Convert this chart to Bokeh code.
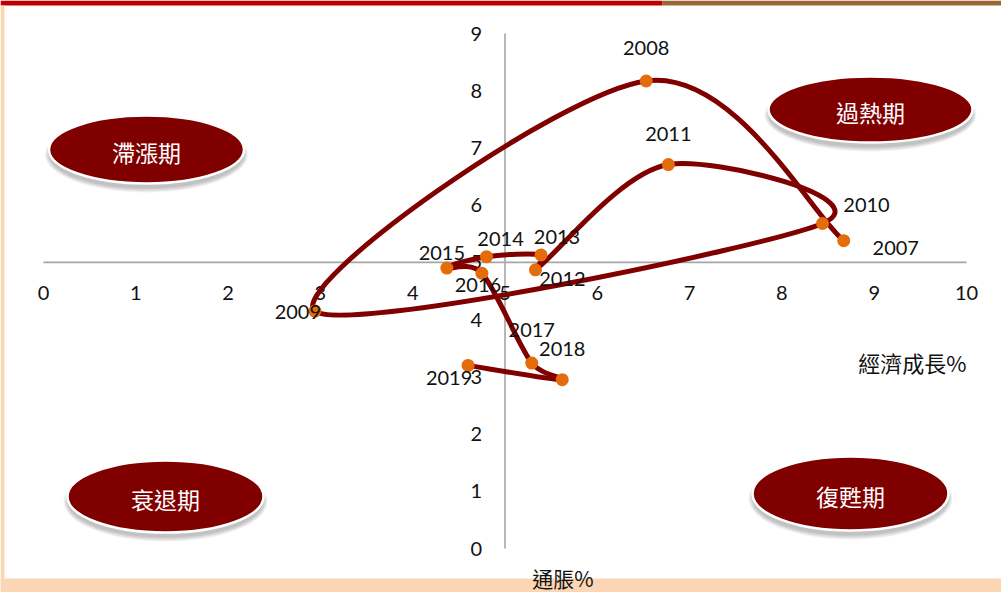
import numpy as np
from bokeh.plotting import figure
from bokeh.models import Range1d, ColumnDataSource
from bokeh.core.properties import value
from bokeh.embed import file_html
from bokeh.resources import INLINE

# ---------------- data ----------------
years = ["2007", "2008", "2009", "2010", "2011", "2012", "2013",
         "2014", "2015", "2016", "2017", "2018", "2019"]
growth = [8.67, 6.53, 2.94, 8.44, 6.77, 5.33, 5.39, 4.80, 4.37, 4.75, 5.29, 5.62, 4.60]
inflation = [5.38, 8.17, 4.15, 5.68, 6.71, 4.87, 5.13, 5.10, 4.90, 4.81, 3.24, 2.95, 3.20]
x_ticks = [0, 1, 2, 3, 4, 5, 6, 7, 8, 9, 10]
y_ticks = [0, 1, 2, 3, 4, 5, 6, 7, 8, 9]
x_title = "經濟成長%"
y_title = "通脹%"
phase_names = ["滯漲期", "過熱期", "衰退期", "復甦期"]
cross_x = 5   # vertical axis crosses at growth = 5
cross_y = 5   # horizontal axis crosses at inflation = 5

# ---------------- layout helpers ----------------
W, H = 1001, 592
X0PX, XSC = 43.0, 92.3     # pixel of x=0, pixels per unit
Y0PX, YSC = 548.0, 57.22   # pixel (from top) of y=0, pixels per unit


def fx(px):
    return (px - X0PX) / XSC


def fy(py):
    return (Y0PX - py) / YSC


p = figure(width=W, height=H,
           x_range=Range1d(fx(0), fx(W)), y_range=Range1d(fy(H), fy(0)),
           x_axis_type=None, y_axis_type=None,
           toolbar_location=None, output_backend="svg", min_border=0)
p.outline_line_color = None
p.background_fill_color = "white"
p.border_fill_color = "white"

# ---------------- page decoration ----------------
p.quad(left=[fx(0)], right=[fx(662)], top=[fy(0)], bottom=[fy(5)],
       fill_color="#C00000", line_color=None)
p.quad(left=[fx(662)], right=[fx(W)], top=[fy(0)], bottom=[fy(5)],
       fill_color="#996633", line_color=None)
p.quad(left=[fx(0)], right=[fx(4)], top=[fy(5)], bottom=[fy(H)],
       fill_color="#FCD5B5", line_color=None)
p.quad(left=[fx(0)], right=[fx(W)], top=[fy(578)], bottom=[fy(H)],
       fill_color="#FCD5B5", line_color=None)

# ---------------- phase ellipses ----------------
ell_centers = [(146, 149), (870, 109), (165, 496), (850, 493)]
ell_sizes = [(195, 68), (204, 66), (196, 72), (196, 74)]
for name, (cx, cy), (w, h) in zip(phase_names, ell_centers, ell_sizes):
    for k in range(5):
        p.ellipse(x=[fx(cx)], y=[fy(cy + 5)], width=[(w + 2 * k) / XSC],
                  height=[(h + 2 * k) / YSC], fill_color="black",
                  fill_alpha=0.05, line_color=None)
    p.ellipse(x=[fx(cx)], y=[fy(cy)], width=[w / XSC], height=[h / YSC],
              fill_color="#800000", line_color="white", line_width=2.5)
    p.text(x=[fx(cx)], y=[fy(cy + 2)], text=[name], text_color="white",
           text_font=value("Noto Sans CJK TC"), text_font_size=value("23px"),
           text_align="center", text_baseline="middle")

# ---------------- axes (crossing at 5,5) ----------------
p.segment(x0=[x_ticks[0]], y0=[cross_y], x1=[x_ticks[-1]], y1=[cross_y],
          line_color="#A6A6A6", line_width=1.6)
p.segment(x0=[cross_x], y0=[y_ticks[0]], x1=[cross_x], y1=[y_ticks[-1]],
          line_color="#A6A6A6", line_width=1.6)

p.text(x=x_ticks, y=[cross_y] * len(x_ticks), text=[str(t) for t in x_ticks],
       y_offset=31, text_align="center", text_baseline="middle",
       text_font=value("Lato"), text_font_size=value("20px"), text_color="#111111")
p.text(x=[cross_x] * len(y_ticks), y=y_ticks, text=[str(t) for t in y_ticks],
       x_offset=-23, text_align="right", text_baseline="middle",
       text_font=value("Lato"), text_font_size=value("20px"), text_color="#111111")

p.text(x=[x_ticks[-1]], y=[cross_y], text=[x_title], y_offset=100,
       text_align="right", text_baseline="middle",
       text_font=value("Noto Sans CJK TC"), text_font_size=value("22px"),
       text_color="#111111")
p.text(x=[cross_x], y=[y_ticks[0]], text=[y_title], x_offset=58, y_offset=29,
       text_align="center", text_baseline="middle",
       text_font=value("Noto Sans CJK TC"), text_font_size=value("21px"),
       text_color="#111111")

# ---------------- smoothed line (Excel-style Bezier smoothing) ----------------
pts = np.column_stack([growth, inflation]).astype(float)
scale = np.array([XSC, YSC])          # measure distances on screen
P = np.vstack([pts[0], pts, pts[-1]])


def dist(a, b):
    return float(np.hypot(*((b - a) * scale)))


x0s, y0s, x1s, y1s, c0x, c0y, c1x, c1y = ([] for _ in range(8))
for i in range(len(pts) - 1):
    a, b, c, d = P[i], P[i + 1], P[i + 2], P[i + 3]
    d12 = dist(b, c)
    d02 = dist(a, c)
    d13 = dist(b, d)
    f0 = 1.0 / 6.0 if (d02 / 6.0 < d12 / 2.0 or d02 == 0) else d12 / (2.0 * d02)
    f3 = 1.0 / 6.0 if (d13 / 6.0 < d12 / 2.0 or d13 == 0) else d12 / (2.0 * d13)
    k0 = b + (c - a) * f0
    k1 = c - (d - b) * f3
    x0s.append(b[0]); y0s.append(b[1]); x1s.append(c[0]); y1s.append(c[1])
    c0x.append(k0[0]); c0y.append(k0[1]); c1x.append(k1[0]); c1y.append(k1[1])
p.bezier(x0=x0s, y0=y0s, x1=x1s, y1=y1s, cx0=c0x, cy0=c0y, cx1=c1x, cy1=c1y,
         line_color="#800000", line_width=5, line_cap="round")

p.scatter(x=growth, y=inflation, size=13, fill_color="#E46C0A", line_color=None)

# ---------------- year labels ----------------
dx = [52, 0, -17, 44, 0, 27, 16, 14, -5, -4, 0, 0, -19]
dy = [7, -33, 1, -18, -31, 9, -18, -18, -15, 12, -33, -31, 13]
src = ColumnDataSource(dict(x=growth, y=inflation, t=years, dx=dx, dy=dy))
p.text(x="x", y="y", text="t", x_offset="dx", y_offset="dy", source=src,
       text_align="center", text_baseline="middle",
       text_font=value("Lato"), text_font_size=value("20px"), text_color="#111111")

open("out.html", "w").write(file_html(p, INLINE))
